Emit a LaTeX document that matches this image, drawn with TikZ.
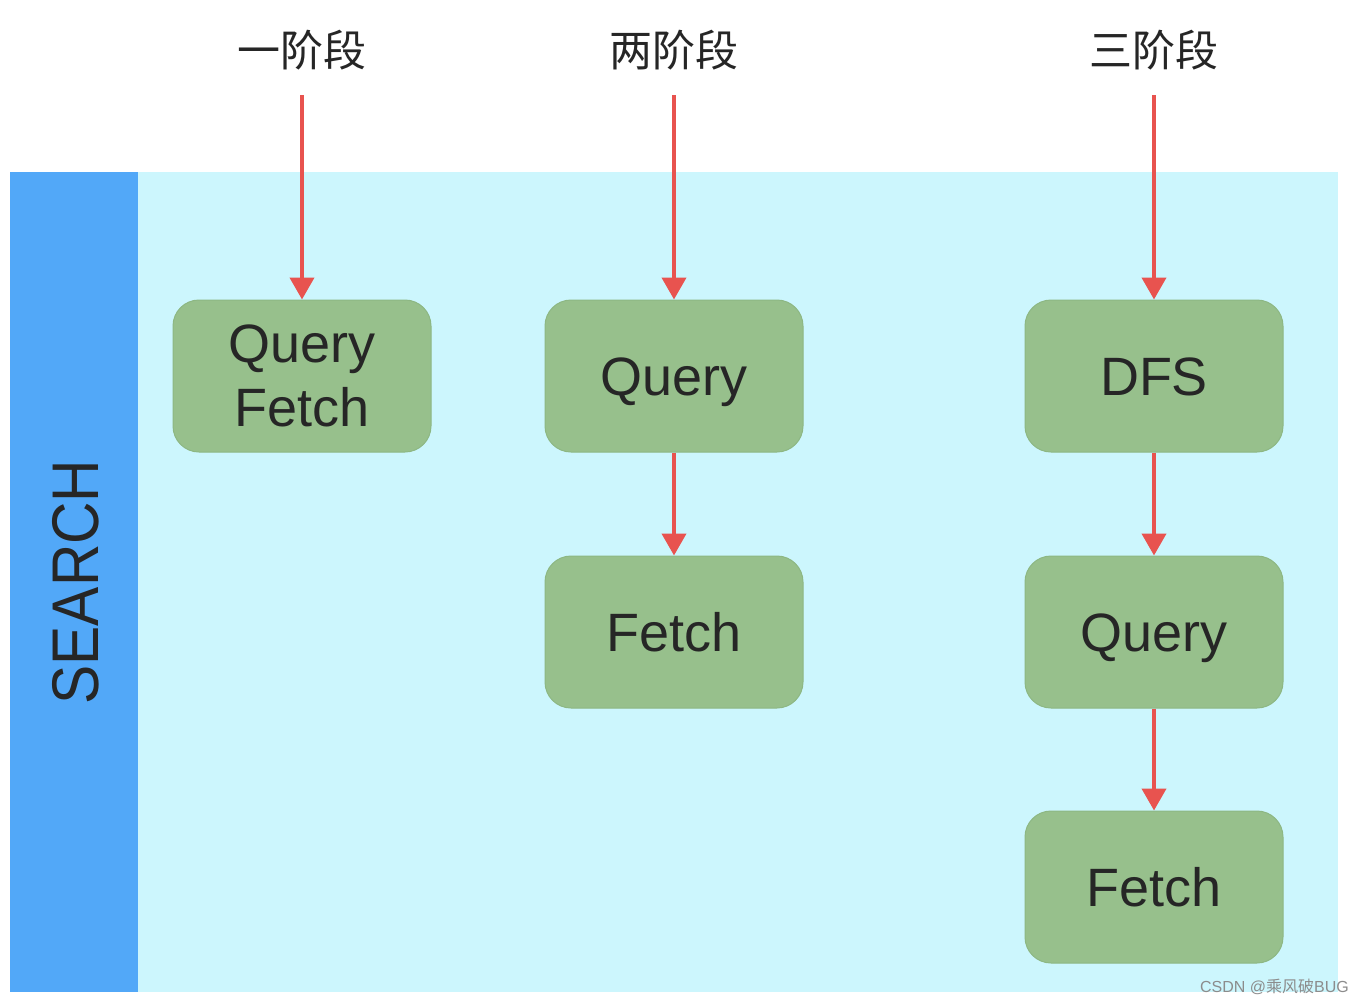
\documentclass[tikz,border=0pt]{standalone}
\usepackage{fontspec}
\setmainfont{Liberation Sans}
\newfontfamily\cjk{Noto Sans CJK SC}
\usetikzlibrary{arrows.meta}
\definecolor{barblue}{HTML}{52A8F8}
\definecolor{bgcyan}{HTML}{CCF6FD}
\definecolor{boxgreen}{HTML}{97C08C}
\definecolor{boxedge}{HTML}{8DB783}
\definecolor{arrred}{HTML}{E8534F}
\tikzset{
  stagebox/.style={fill=boxgreen, draw=boxedge, line width=1pt, rounded corners=26pt,
    minimum width=258pt, minimum height=152pt, inner sep=0pt, align=center,
    font=\fontsize{54}{62}\selectfont, text=black!85},
  onetext/.style={text height=39pt, text depth=0pt},
  flow/.style={draw=arrred, line width=4pt, -{Triangle[length=22pt,width=24pt]}},
  stagelabel/.style={font=\cjk\fontsize{43}{50}\selectfont, text=black!85},
}
\begin{document}
\begin{tikzpicture}[x=1pt,y=-1pt]
\useasboundingbox (0,0) rectangle (1363,1005);
\fill[white] (0,0) rectangle (1363,1005);
\fill[bgcyan] (138,172) rectangle (1338,992);
\fill[barblue] (10,172) rectangle (138,992);
\node[rotate=90, font=\fontsize{66}{70}\selectfont, text=black!85, text height=47pt, text depth=0pt] (search) at (75,582) {\scalebox{0.89}[1]{SEARCH}};

\node[stagelabel] (l1) at (302,50) {一阶段};
\node[stagelabel] (l2) at (674,50) {两阶段};
\node[stagelabel] (l3) at (1154,50) {三阶段};

\node[stagebox] (qf) at (302,376) {Query\\[2pt]Fetch};
\node[stagebox, onetext] (q2) at (674,376) {Query};
\node[stagebox, onetext] (f2) at (674,632) {Fetch};
\node[stagebox, onetext] (dfs) at (1154,376) {DFS};
\node[stagebox, onetext] (q3) at (1154,632) {Query};
\node[stagebox, onetext] (f3) at (1154,887) {Fetch};

\coordinate (s1) at (302,95);
\coordinate (s2) at (674,95);
\coordinate (s3) at (1154,95);
\draw[flow] (s1) -- (qf.north);
\draw[flow] (s2) -- (q2.north);
\draw[flow] (s3) -- (dfs.north);
\draw[flow] (q2.south) -- (f2.north);
\draw[flow] (dfs.south) -- (q3.north);
\draw[flow] (q3.south) -- (f3.north);

\node[anchor=east, font=\fontsize{16}{18}\selectfont, text=black!45, inner sep=0pt] (wm) at (1349,987) {CSDN @{\cjk 乘风破}BUG};
\end{tikzpicture}
\end{document}
